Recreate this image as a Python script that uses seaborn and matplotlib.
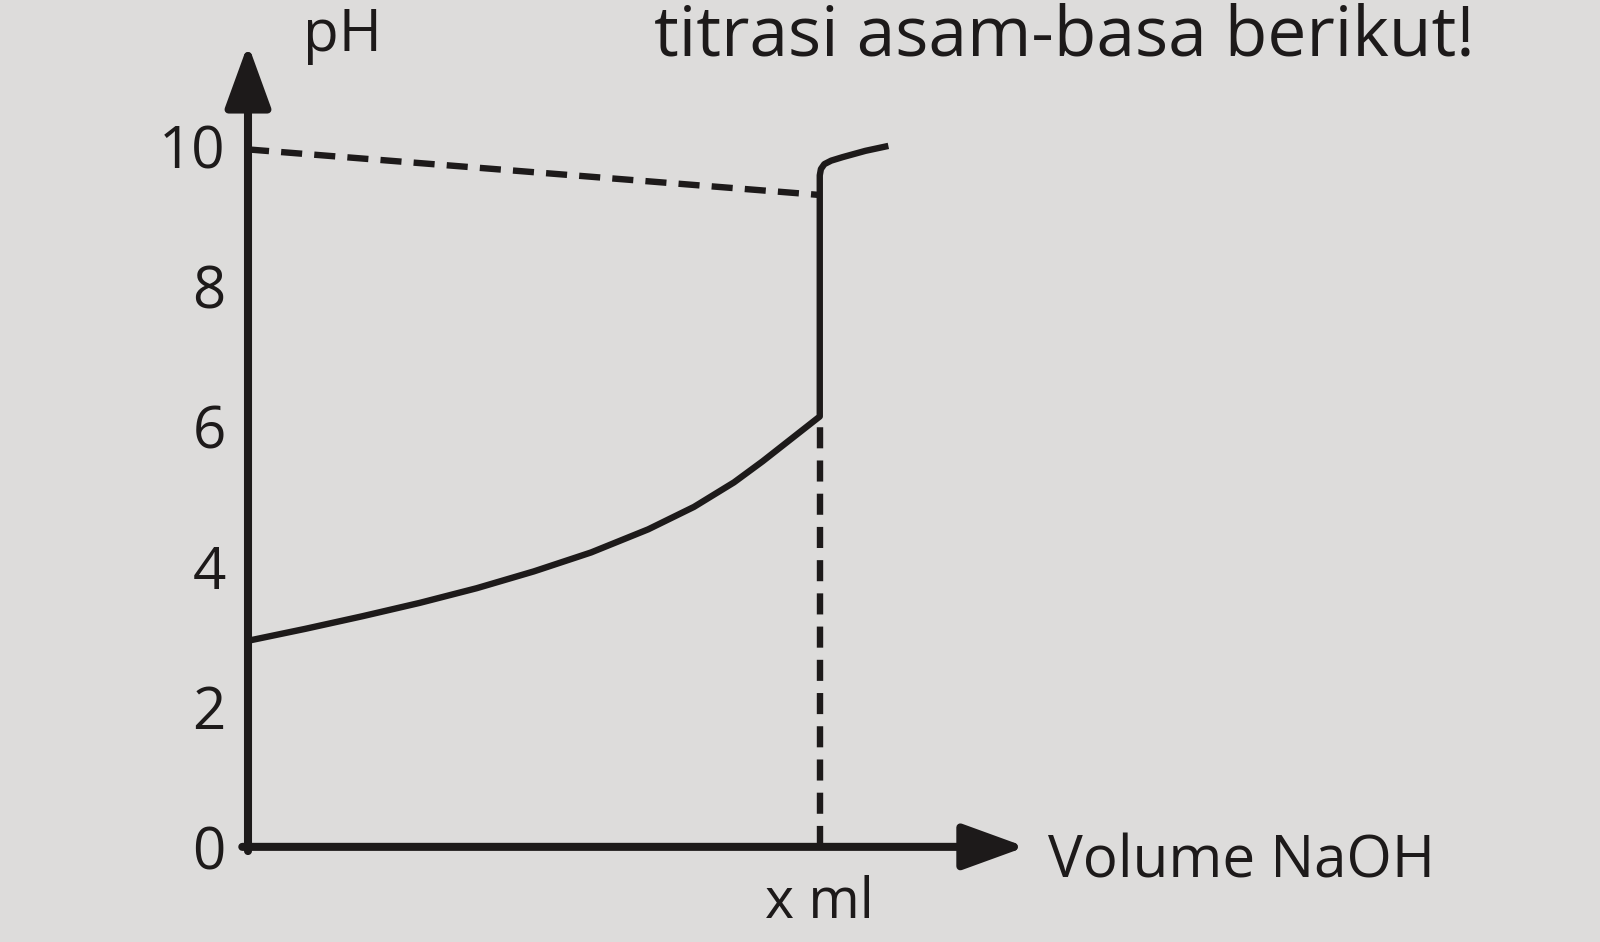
import seaborn as sns
import matplotlib.pyplot as plt

# titration curve (volume in units of "x ml")
vol_acid = [0.0, 0.1, 0.2, 0.3, 0.4, 0.5, 0.6, 0.7, 0.78, 0.85, 0.9, 0.95, 1.0]
ph_acid = [2.94, 3.11, 3.29, 3.48, 3.69, 3.93, 4.2, 4.53, 4.85, 5.2, 5.5, 5.82, 6.14]
vol_base = [1.0, 1.002, 1.008, 1.02, 1.04, 1.08, 1.12]
ph_base = [9.58, 9.67, 9.74, 9.79, 9.84, 9.93, 10.0]

# dashed guides
ref_vol = [0.0, 1.0]
ref_ph = [9.95, 9.3]
eq_vol = [1.0, 1.0]
eq_ph = [0.0, 6.14]

yticks = [0, 2, 4, 6, 8, 10]
xticks = [1.0]
xtick_labels = ["x ml"]

ink = "#1d1a1a"
paper = "#dddcdb"

sns.set_theme(style="white")
plt.rcParams["font.family"] = ["Open Sans", "DejaVu Sans"]

fig = plt.figure(figsize=(16, 9.42), dpi=100, facecolor=paper)
ax = fig.add_axes([0.155, 0.101, 0.486, 0.852])
ax.set_facecolor(paper)

vol = vol_acid + vol_base
ph = ph_acid + ph_base
sns.lineplot(x=vol, y=ph, sort=False, estimator=None, color=ink, lw=4.6, ax=ax)
for ln in ax.lines:
    ln.set_solid_joinstyle("round")
    ln.set_solid_capstyle("butt")

dash = (0, (3.3, 1.9))
ax.plot(ref_vol, ref_ph, color=ink, lw=4.6, linestyle=dash)
ax.plot(eq_vol, eq_ph, color=ink, lw=4.6, linestyle=dash)

ax.set_xlim(0, 1.36)
ax.set_ylim(0, 11.45)
for s in ax.spines.values():
    s.set_visible(False)

# axes drawn as arrows
arrow = dict(arrowstyle="-|>,head_length=0.55,head_width=0.2", lw=5.8,
             color=ink, shrinkA=0, shrinkB=0, mutation_scale=70)
ax.annotate("", xy=(0, 11.45), xytext=(0, -0.06), arrowprops=arrow, annotation_clip=False)
ax.annotate("", xy=(1.36, 0), xytext=(-0.01, 0), arrowprops=arrow, annotation_clip=False)

ax.set_yticks(yticks)
ax.set_yticklabels([str(t) for t in yticks])
ax.set_xticks(xticks)
ax.set_xticklabels(xtick_labels)
ax.tick_params(axis="y", length=0, pad=16, labelsize=42, labelcolor=ink)
ax.tick_params(axis="x", length=0, pad=20, labelsize=40, labelcolor=ink)
ax.set_xlabel("")
ax.set_ylabel("")

ax.text(0.165, 11.57, "pH", fontsize=42, color=ink, ha="center", va="center", clip_on=False)
ax.text(1.40, -0.22, "Volume NaOH", fontsize=42, color=ink, ha="left", va="center", clip_on=False)

# line of text at the top of the page
fig.text(0.922, 0.997, "titrasi asam-basa berikut!", fontsize=50, color=ink,
         ha="right", va="top")

fig.savefig("out.png", dpi=100, facecolor=paper)
